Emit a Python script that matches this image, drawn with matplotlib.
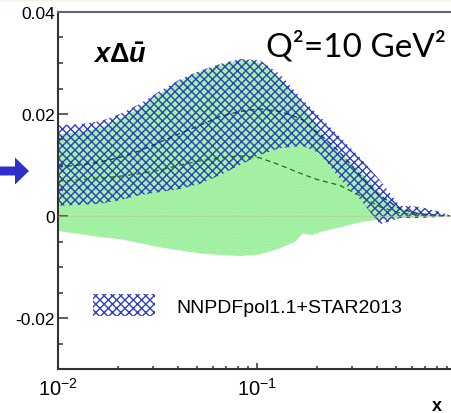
import matplotlib
matplotlib.use("Agg")
import matplotlib.pyplot as plt
import matplotlib.ticker as mticker
from matplotlib.patches import Patch, FancyArrow, Rectangle
import numpy as np

# ── data: x grid and band edges ─────────────────────────
x = [0.010, 0.0129, 0.0163, 0.0205, 0.0258, 0.0326, 0.0410, 0.0517, 0.0652,
     0.0822, 0.1035, 0.1305, 0.155, 0.170, 0.189, 0.207, 0.261, 0.329,
     0.415, 0.523, 0.659, 0.831, 0.933]

# NNPDFpol1.1+STAR2013 (blue hatched)
star_hi = [0.0178, 0.0180, 0.0186, 0.0200, 0.0220, 0.0245, 0.0268, 0.0285, 0.0298,
           0.0308, 0.0305, 0.0278, 0.0245, 0.0228, 0.0210, 0.0195, 0.0155, 0.0115,
           0.0070, 0.0020, 0.0018, 0.0008, 0.0001]
star_lo = [0.0020, 0.0022, 0.0024, 0.0031, 0.0041, 0.0047, 0.0053, 0.0063, 0.0080,
           0.0100, 0.0120, 0.0133, 0.0136, 0.0137, 0.0130, 0.0122, 0.0073, 0.0033,
           -0.0016, -0.0004, -0.0004, -0.0002, 0.0]
star_cv = [0.0096, 0.0100, 0.0106, 0.0115, 0.0128, 0.0145, 0.0162, 0.0178, 0.0195,
           0.0205, 0.0210, 0.0205, 0.0195, 0.0188, 0.0172, 0.0160, 0.0125, 0.0080,
           0.0040, 0.0014, 0.0004, 0.0001, 0.0]

# NNPDFpol1.1 (green)
nn_hi = [0.0160, 0.0165, 0.0172, 0.0190, 0.0212, 0.0240, 0.0265, 0.0283, 0.0296,
         0.0305, 0.0300, 0.0268, 0.0235, 0.0215, 0.0190, 0.0165, 0.0125, 0.0088,
         0.0045, 0.0014, 0.0006, 0.0002, 0.0]
nn_lo = [-0.0029, -0.0035, -0.0041, -0.0045, -0.0053, -0.0061, -0.0067, -0.0073, -0.0076,
         -0.0078, -0.0075, -0.0063, -0.0050, -0.0034, -0.0037, -0.0031, -0.0022, -0.0012,
         -0.0006, -0.0004, -0.0002, 0.0, 0.0]
nn_cv = [0.0068, 0.0071, 0.0074, 0.0078, 0.0083, 0.0090, 0.0100, 0.0108, 0.0114,
         0.0118, 0.0114, 0.0100, 0.0088, 0.0082, 0.0075, 0.0070, 0.0060, 0.0040,
         0.0018, 0.0006, 0.0002, 0.0, 0.0]

yticks = [-0.02, 0.0, 0.02, 0.04]
ytick_labels = ["-0.02", "0", "0.02", "0.04"]

blue = "#2f3fc4"
green = "#86ea86"

plt.rcParams["font.family"] = ["Liberation Sans", "DejaVu Sans"]
plt.rcParams["mathtext.fontset"] = "custom"
plt.rcParams["mathtext.it"] = "Liberation Sans:italic:bold"
plt.rcParams["mathtext.rm"] = "Liberation Sans:bold"

W, H = 452, 414
fig = plt.figure(figsize=(W / 100, H / 100), dpi=100)
ax = fig.add_axes([58 / W, (H - 370) / H, 398 / W, 357 / H])

# ── bands ──────────────────────────────────
plt.rcParams["hatch.linewidth"] = 0.5
ax.fill_between(x, nn_lo, nn_hi, facecolor=green, edgecolor="#b2f4b2",
                hatch="xxxxxxxxxxxx", linewidth=0, zorder=1)
plt.rcParams["hatch.linewidth"] = 1.0
ax.fill_between(x, star_lo, star_hi, facecolor="none", edgecolor=blue,
                hatch="xxxx", linewidth=0, zorder=2)

ax.plot(x, star_cv, color="#1c2a80", lw=0.9, ls=(0, (4, 3)), zorder=3)
ax.plot(x, nn_cv, color="#1f6e1f", lw=0.9, ls=(0, (4, 3)), zorder=3)
ax.axhline(0, color="#c9bc98", lw=1, alpha=0.5, zorder=3)

# ── axes styling ───────────────────────────
ax.set_xscale("log")
ax.set_xlim(0.01, 1)
ax.set_ylim(-0.03, 0.04)
ax.set_yticks(yticks)
ax.set_yticklabels(ytick_labels)
ax.yaxis.set_minor_locator(mticker.MultipleLocator(0.005))
ax.xaxis.set_major_formatter(mticker.FuncFormatter(
    lambda v, _: "1" if abs(v - 1) < 1e-9 else r"$\mathdefault{10^{%d}}$" % round(np.log10(v))))
ax.xaxis.set_minor_formatter(mticker.NullFormatter())

ax.tick_params(axis="y", which="major", direction="in", length=7, width=1.1,
               pad=2, labelsize=12.5, colors="#333333", labelcolor="black")
ax.tick_params(axis="y", which="minor", direction="in", length=3.6, width=1.1,
               colors="#333333")
ax.tick_params(axis="x", which="major", direction="in", length=4.5, width=1.1,
               pad=6, labelsize=14.5, colors="#333333", labelcolor="black")
ax.tick_params(axis="x", which="minor", direction="in", length=2.5, width=1.1,
               colors="#333333")
ax.tick_params(top=False, right=False)

for side in ["left", "bottom"]:
    ax.spines[side].set_color("#333333")
    ax.spines[side].set_linewidth(1.5)
ax.spines["top"].set_color("#666666")
ax.spines["top"].set_linewidth(1.5)
ax.spines["right"].set_visible(False)

# ── texts ──────────────────────────────────
fig.text(93 / W, 1 - 63 / H, r"$x\mathit{\Delta}\bar{u}$",
         fontsize=19.5, ha="left", va="baseline")
fig.text(266 / W, 1 - 57 / H, "Q²=10 GeV²", family=["Lato", "DejaVu Sans"],
         fontsize=24, ha="left", va="baseline")
fig.text(437 / W, 1 - 411 / H, "x", fontsize=13, fontweight="bold",
         ha="center", va="baseline")

handle = Patch(facecolor="white", edgecolor=blue, hatch="xxxx", linewidth=0)
fig.legend(handles=[handle], labels=["NNPDFpol1.1+STAR2013"], loc="center left",
           bbox_to_anchor=(93 / W, 1 - 306 / H), frameon=False, fontsize=14,
           handlelength=3.2, handleheight=1.3, handletextpad=1.1, borderpad=0,
           borderaxespad=0)

# ── decorations: top strip and side arrow ──
fig.patches.append(Rectangle((0, 1 - 2 / H), 1, 2 / H, transform=fig.transFigure,
                             facecolor="#fcefe6", edgecolor="none"))
fig.patches.append(FancyArrow(0, (H - 172) / 100, 0.29, 0, width=0.09,
                              head_width=0.27, head_length=0.14,
                              length_includes_head=True,
                              transform=fig.dpi_scale_trans,
                              facecolor="#3030c8", edgecolor="none"))

fig.savefig("out.png", dpi=100)
